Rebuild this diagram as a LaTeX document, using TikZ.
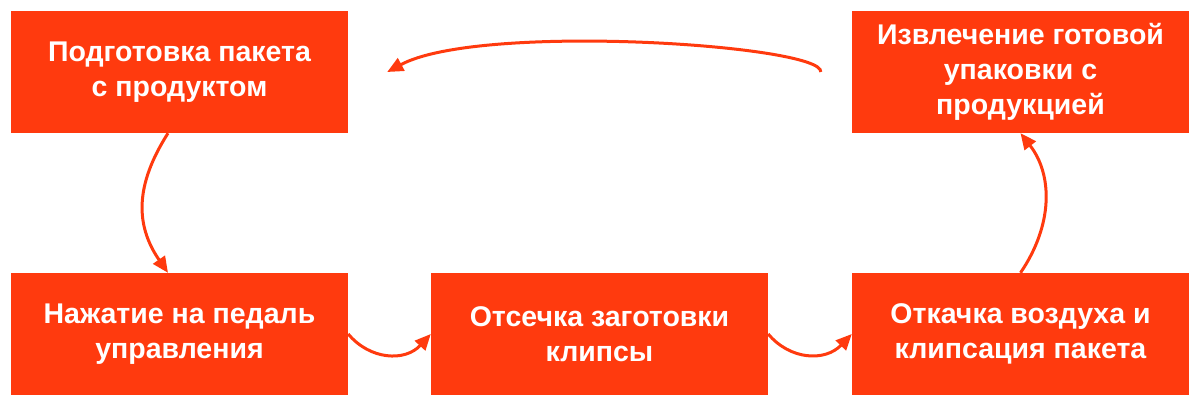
\documentclass[tikz,border=0pt]{standalone}
\usepackage{fontspec}
\newfontfamily\boxfont{Liberation Sans}
\usetikzlibrary{arrows.meta}
\definecolor{boxred}{RGB}{255,58,14}
\tikzset{
  stepbox/.style={rectangle, fill=boxred, draw=none, minimum width=337pt, minimum height=122pt,
    inner sep=0pt, text=white, align=center, font=\boxfont\bfseries\fontsize{28.5}{35}\selectfont},
  flow/.style={draw=boxred, line width=3pt, -{Triangle[length=16pt,width=14pt]}}
}
\begin{document}
\begin{tikzpicture}[x=1pt,y=-1pt]
\useasboundingbox (0,0) rectangle (1200,407);
\node[stepbox] (prep) at (179.5,72) {Подготовка пакета\\с продуктом};
\node[stepbox] (extract) at (1020.5,72) {Извлечение готовой\\упаковки с\\продукцией};
\node[stepbox] (pedal) at (179.5,334) {Нажатие на педаль\\управления};
\node[stepbox] (cut) at (599.5,334) {Отсечка заготовки\\клипсы};
\node[stepbox] (pump) at (1020.5,334) {Откачка воздуха и\\клипсация пакета};
\coordinate (a0) at ([xshift=-31pt]extract.west);
\coordinate (a1) at ([xshift=39pt]prep.east);
\draw[flow] (a0) .. controls (824,45) and (480,22) .. (a1);
\draw[flow] ([xshift=-11.5pt]prep.south) .. controls (135,185) and (135,225) .. ([xshift=-11.5pt]pedal.north);
\draw[flow] (pedal.east) .. controls (370,360) and (405,362) .. (cut.west);
\draw[flow] (cut.east) .. controls (790,360) and (825,362) .. (pump.west);
\draw[flow] (pump.north) .. controls (1053,225) and (1053,175) .. (extract.south);
\end{tikzpicture}
\end{document}
